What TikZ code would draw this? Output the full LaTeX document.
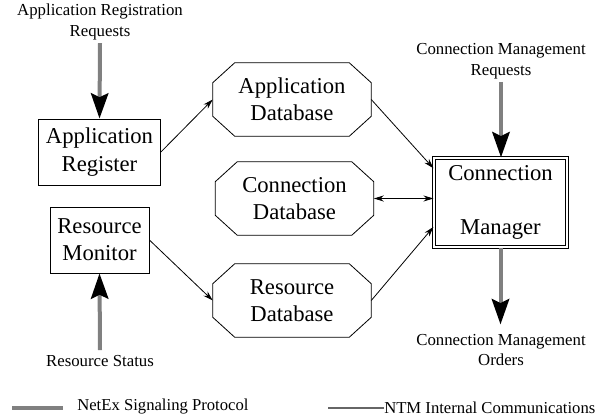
\documentclass[tikz,border=0pt]{standalone}
\usepackage{fontspec}
\setmainfont{Liberation Serif}
\usetikzlibrary{arrows.meta}

\begin{document}
\begin{tikzpicture}[x=0.75pt,y=-0.75pt,
	box/.style={shape=rectangle,draw=black,line width=0.6pt,align=center,inner sep=0pt,font=\fontsize{17}{20.5}\selectfont},
	octa/.style={shape=rectangle,align=center,inner sep=0pt,minimum width=118.5pt,minimum height=54.75pt,font=\fontsize{17}{20.5}\selectfont},
	lbl/.style={align=center,inner sep=0pt,font=\fontsize{12.6}{15.5}\selectfont},
	sig/.style={draw=gray,line width=3pt,-{Stealth[color=black,length=19pt,width=13pt,inset=3pt]}},
	ntm/.style={draw=black,line width=0.6pt,-{Stealth[length=7.5pt,width=4.5pt]}}]
	\useasboundingbox (0,0) rectangle (607,416);

	% boxes
	\node[box,minimum width=91.5pt,minimum height=49.5pt] (appreg) at (99.5,152) {Application\\Register};
	\node[box,minimum width=74.25pt,minimum height=49.5pt] (resmon) at (99.5,240) {Resource\\Monitor};
	\node[octa] (appdb) at (292,99.5) {Application\\Database};
	\node[octa] (conndb) at (294.5,198.5) {Connection\\Database};
	\node[octa] (resdb) at (292,300.5) {Resource\\Database};
	\node[box,double,double distance=1.5pt,minimum width=100pt,minimum height=67pt] (cm) at (500.5,202.5) {Connection\\[20pt]Manager};

	% octagon outlines
	\foreach \n in {appdb,conndb,resdb}
		\draw[line width=0.6pt] ([xshift=16.5pt]\n.north west) -- ([xshift=-16.5pt]\n.north east)
			-- ([yshift=-15pt]\n.north east) -- ([yshift=15pt]\n.south east)
			-- ([xshift=-16.5pt]\n.south east) -- ([xshift=16.5pt]\n.south west)
			-- ([yshift=15pt]\n.south west) -- ([yshift=-15pt]\n.north west) -- cycle;

	% outside labels
	\node[lbl] (appreq) at (100,22) {Application Registration\\Requests};
	\node[lbl] (resstat) at (100,361) {Resource Status};
	\node[lbl] (cmreq) at (501,61) {Connection Management\\Requests};
	\node[lbl] (cmord) at (501,350) {Connection Management\\Orders};

	% NetEx signaling
	\path[sig] (appreq.south) ++(0,3) coordinate (a1) (a1) -- (appreg.north);
	\path[sig] (resstat.north) ++(0,-5) coordinate (r1) (r1) -- (resmon.south);
	\path[sig] (cmreq.south) ++(0,3) coordinate (c1) (c1) -- (c1 |- cm.north);
	\path[sig,shorten >=7pt] (cm.south) -- (cm.south |- cmord.north);

	% internal communications
	\draw[ntm] (appreg.east) -- (appdb.west);
	\draw[ntm] (resmon.east) -- (resdb.west);
	\draw[ntm] (appdb.east) -- (cm.153);
	\draw[ntm] (resdb.east) -- (cm.200);
	\draw[ntm,{Stealth[length=7.5pt,width=4.5pt]}-{Stealth[length=7.5pt,width=4.5pt]}] (conndb.east) -- (conndb.east -| cm.west);

	% legend
	\coordinate (leg1a) at (12,408);
	\coordinate (leg1b) at (63,408);
	\coordinate (leg2a) at (328,408);
	\coordinate (leg2b) at (384,408);
	\draw[draw=gray,line width=3pt] (leg1a) -- (leg1b);
	\node[lbl,anchor=west,font=\fontsize{12.5}{14}\selectfont] (leg1) at (77,407) {NetEx Signaling Protocol};
	\draw[draw=gray!80!black,line width=0.8pt] (leg2a) -- (leg2b);
	\node[lbl,anchor=west,font=\fontsize{12.5}{14}\selectfont] (leg2) at (leg2b) {NTM Internal Communications};
\end{tikzpicture}
\end{document}
